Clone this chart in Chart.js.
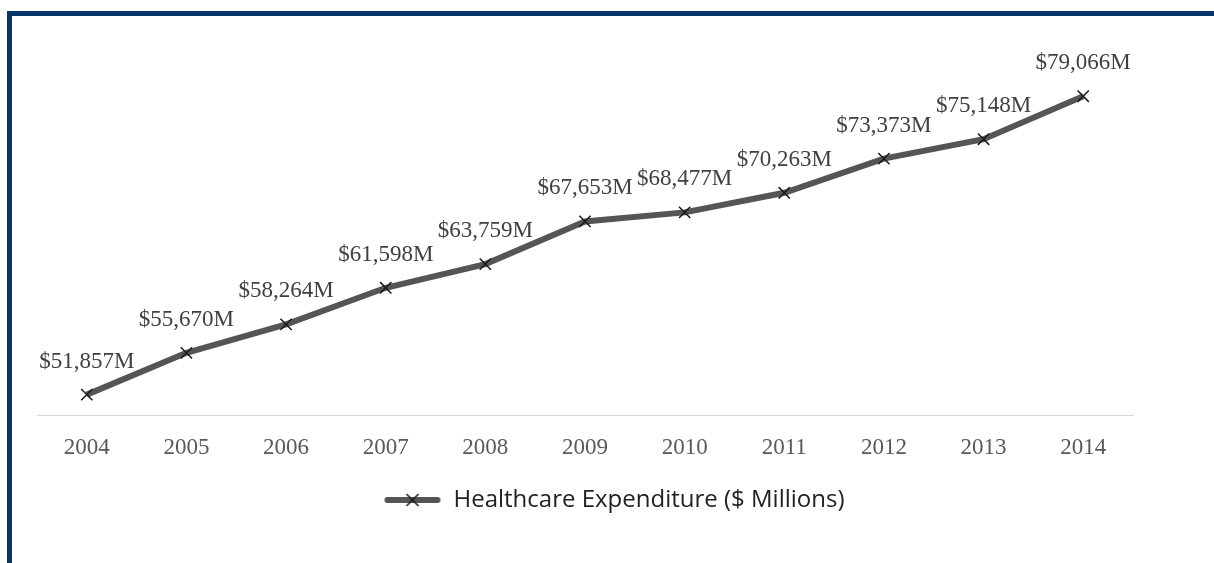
<!DOCTYPE html>
<html>
<head>
<meta charset="utf-8">
<script src="https://cdn.jsdelivr.net/npm/chart.js@4"></script>
<style>
  html,body{margin:0;padding:0;background:#fff;}
  #wrap{position:relative;width:1214px;height:563px;overflow:hidden;}
  #frame{position:absolute;left:7px;top:11px;right:0;bottom:0;border-left:5px solid #06356a;border-top:5px solid #06356a;}
  canvas{position:absolute;left:0;top:0;}
</style>
</head>
<body>
<div id="wrap">
  <canvas id="c" width="1214" height="563"></canvas>
  <div id="frame"></div>
</div>
<script>
const years=['2004','2005','2006','2007','2008','2009','2010','2011','2012','2013','2014'];
const spend=[51857,55670,58264,61598,63759,67653,68477,70263,73373,75148,79066];
const seriesName='Healthcare Expenditure ($ Millions)';
const yMin=50000, yMax=80000;

const LINE='#555555', MARK='#1a1a1a';

// legend sample: thick line with an x in the middle
function legendSample(){
  const cv=document.createElement('canvas'); cv.width=58; cv.height=16;
  const g=cv.getContext('2d');
  g.strokeStyle=LINE; g.lineWidth=6; g.lineCap='round';
  g.beginPath(); g.moveTo(4,8); g.lineTo(54,8); g.stroke();
  g.strokeStyle=MARK; g.lineWidth=1.5; g.lineCap='butt';
  g.beginPath(); g.moveTo(23,2); g.lineTo(35,14); g.moveTo(35,2); g.lineTo(23,14); g.stroke();
  return cv;
}

const fmt=v=>'$'+v.toLocaleString('en-US')+'M';

const valueLabels={id:'valueLabels',afterDatasetsDraw(chart){
  const {ctx}=chart; const meta=chart.getDatasetMeta(0);
  ctx.save();
  ctx.font='23px "Liberation Serif", "Times New Roman", serif';
  ctx.fillStyle='#404040'; ctx.textAlign='center'; ctx.textBaseline='middle';
  meta.data.forEach((p,i)=>ctx.fillText(fmt(spend[i]),p.x,p.y-33));
  ctx.restore();
}};

const legendShift={id:'legendShift',afterLayout(chart){
  const lg=chart.legend; if(!lg) return;
  lg.left=14; lg.right=chart.width;
}};

new Chart(document.getElementById('c'),{
  type:'line',
  data:{labels:years,datasets:[{
    label:seriesName,data:spend,
    borderColor:LINE,borderWidth:6,tension:0,fill:false,
    pointStyle:'crossRot',pointRadius:8,pointBorderColor:MARK,pointBorderWidth:1.5,pointBackgroundColor:MARK
  }]},
  options:{
    responsive:false,animation:false,
    layout:{padding:{left:37,right:81,top:86,bottom:41}},
    plugins:{
      tooltip:{enabled:false},
      legend:{position:'bottom',labels:{
        usePointStyle:true,pointStyle:legendSample(),pointStyleWidth:58,boxHeight:24,
        color:'#222222',font:{family:'"Open Sans", "Noto Sans", sans-serif',size:24},padding:10
      }}
    },
    scales:{
      x:{offset:true,grid:{display:false,drawTicks:false},
        border:{display:true,color:'#d9d9d9',width:1},
        ticks:{color:'#595959',padding:19,font:{family:'"Liberation Serif", "Times New Roman", serif',size:23}},
        afterFit(s){s.height=63;}},
      y:{display:false,min:yMin,max:yMax}
    }
  },
  plugins:[valueLabels,legendShift]
});
</script>
</body>
</html>
